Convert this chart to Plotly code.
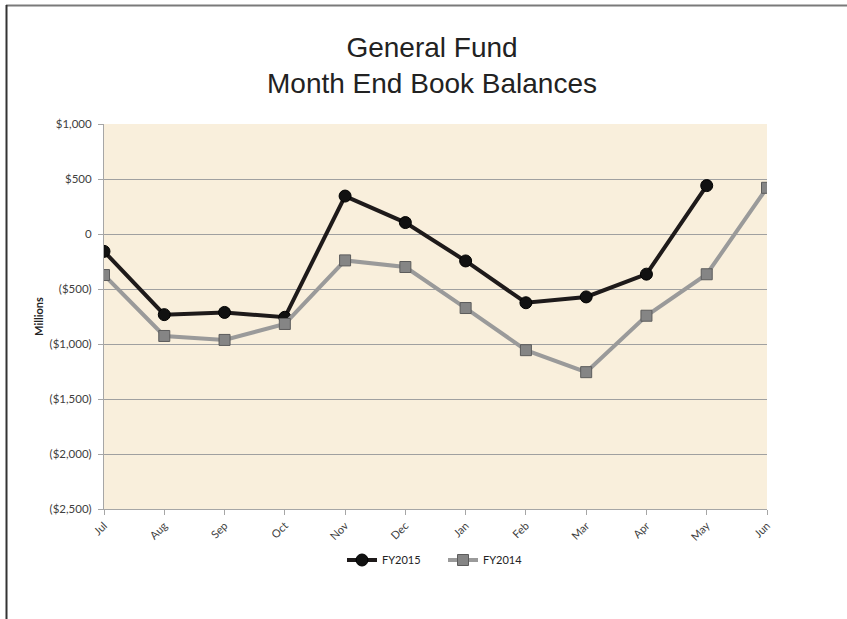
import plotly.graph_objects as go

months = ["Jul", "Aug", "Sep", "Oct", "Nov", "Dec", "Jan", "Feb", "Mar", "Apr", "May", "Jun"]
fy2015 = [-158, -733, -713, -757, 345, 104, -245, -625, -572, -365, 440, None]
fy2014 = [-373, -927, -963, -818, -240, -300, -673, -1056, -1256, -743, -366, 420]
ytick_vals = [1000, 500, 0, -500, -1000, -1500, -2000, -2500]
ytick_text = ["$1,000", "$500", "0", "($500)", "($1,000)", "($1,500)", "($2,000)", "($2,500)"]

fig = go.Figure()
fig.add_trace(go.Scatter(
    x=months, y=fy2015, name="FY2015", mode="lines+markers",
    line=dict(color="#1e1a1a", width=4),
    marker=dict(symbol="circle", size=12, color="#111111", line=dict(color="#000000", width=1)),
    connectgaps=False,
))
fig.add_trace(go.Scatter(
    x=months, y=fy2014, name="FY2014", mode="lines+markers",
    line=dict(color="#9a9a9a", width=4),
    marker=dict(symbol="square", size=11, color="#858585", line=dict(color="#5c5c5c", width=1)),
))

L, R, T, B = 104, 767, 124, 509
W, H = 847, 619
pw, ph = R - L, B - T

def px(xp):
    return (xp - L) / pw

def py(yp):
    return (B - yp) / ph

fig.update_layout(
    width=W, height=H,
    margin=dict(l=L, r=W - R, t=T, b=H - B, pad=0),
    paper_bgcolor="white",
    plot_bgcolor="#f9efdc",
    font=dict(family="Lato, Liberation Sans, sans-serif", color="#404040", size=11),
    title=dict(
        text="General Fund<br>Month End Book Balances",
        font=dict(family="Liberation Sans, Arial, sans-serif", size=28, color="#222222"),
        x=432 / W, xanchor="center", xref="container",
        y=1 - 57 / H, yanchor="middle", yref="container",
    ),
    showlegend=True,
    legend=dict(
        orientation="h", x=px(342), xanchor="left", y=py(560), yanchor="middle",
        font=dict(size=11, color="#222222"), bgcolor="rgba(0,0,0,0)",
        itemwidth=30, entrywidth=56,
    ),
    xaxis=dict(
        type="category", range=[0, 11], tickangle=-45,
        showgrid=False, showline=True, linecolor="#a6a6a6", linewidth=1,
        ticks="outside", ticklen=5, tickcolor="#a6a6a6",
        tickfont=dict(size=11, color="#404040"),
        zeroline=False,
    ),
    yaxis=dict(
        range=[-2500, 1000], tickvals=ytick_vals, ticktext=ytick_text,
        showgrid=True, gridcolor="#a0a0a0", gridwidth=1,
        zeroline=True, zerolinecolor="#a0a0a0", zerolinewidth=1,
        showline=True, linecolor="#a6a6a6", linewidth=1,
        ticks="outside", ticklen=5, tickcolor="#a6a6a6", ticklabelstandoff=4,
        tickfont=dict(size=11.5, color="#404040"),
        title=dict(text="<b>Millions</b>", font=dict(size=11, color="#222222"), standoff=3),
    ),
    shapes=[
        dict(type="line", xref="paper", yref="paper", x0=px(6), x1=px(847), y0=py(5.5), y1=py(5.5),
             line=dict(color="#7a7a7a", width=2)),
        dict(type="line", xref="paper", yref="paper", x0=px(6.5), x1=px(6.5), y0=py(5), y1=py(619),
             line=dict(color="#333333", width=2)),
    ],
)

fig.write_html(
    "out.html",
    config={"displayModeBar": False},
    post_script="document.body.style.margin='0px';document.body.style.overflow='hidden';",
)
